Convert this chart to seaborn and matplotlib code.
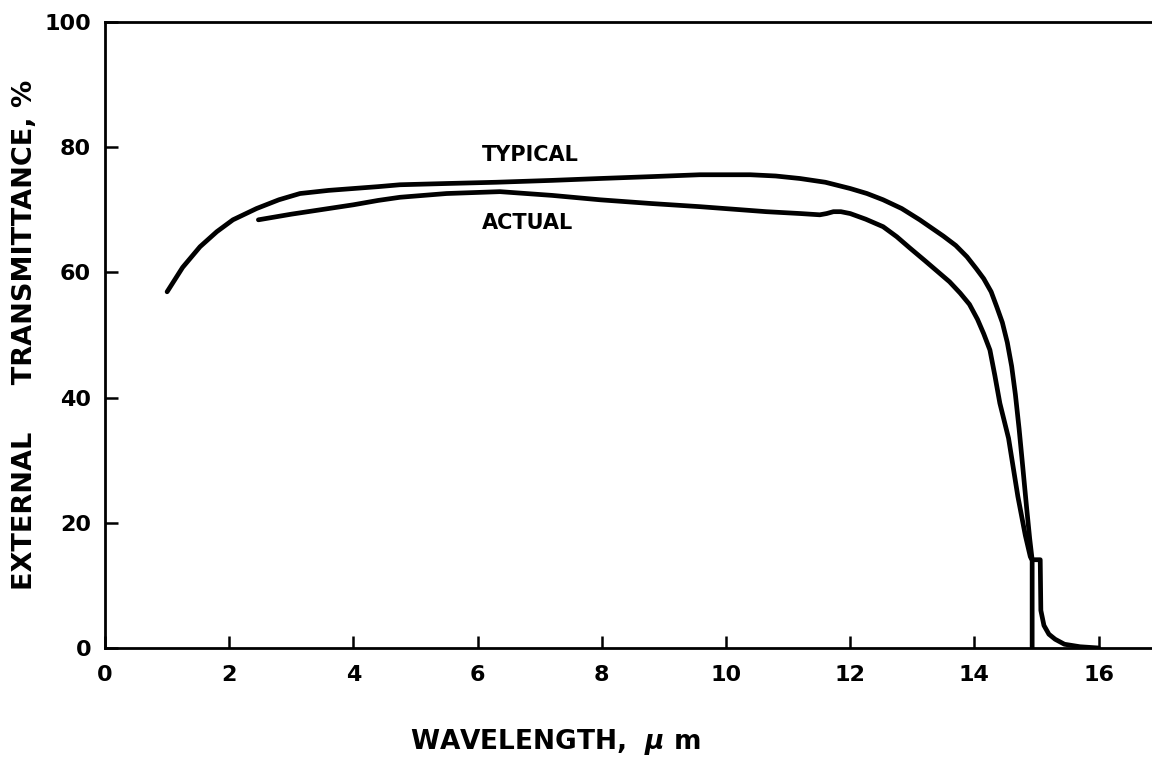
import matplotlib
matplotlib.use("Agg")
import matplotlib.pyplot as plt
import seaborn as sns
import pandas as pd

typical_x = [1.0, 1.25, 1.53, 1.8, 2.06, 2.44, 2.8, 3.14, 3.6, 4.0, 4.4, 4.75, 5.5, 6.3, 7.2, 7.97, 8.8, 9.58, 10.39, 10.8, 11.19, 11.6, 12.0, 12.27, 12.53, 12.83, 13.12, 13.5, 13.7, 13.88, 14.03, 14.15, 14.27, 14.36, 14.45, 14.53, 14.6, 14.66, 14.72, 14.78, 14.84, 14.89, 14.93, 15.06, 15.07, 15.12, 15.2, 15.3, 15.45, 15.7, 16.0]
typical_y = [56.9, 60.8, 64.1, 66.5, 68.4, 70.2, 71.6, 72.6, 73.1, 73.4, 73.7, 74.0, 74.2, 74.4, 74.7, 75.0, 75.3, 75.6, 75.6, 75.4, 75.0, 74.4, 73.4, 72.6, 71.6, 70.2, 68.4, 65.8, 64.3, 62.5, 60.6, 59.0, 56.9, 54.5, 52.0, 48.8, 45.0, 40.5, 35.0, 28.8, 22.5, 17.5, 14.1, 14.1, 6.0, 3.6, 2.2, 1.4, 0.6, 0.2, 0.0]

actual_x = [2.47, 3.0, 3.6, 4.0, 4.4, 4.75, 5.5, 6.36, 7.2, 7.97, 8.8, 9.58, 10.65, 11.2, 11.51, 11.62, 11.73, 11.85, 12.0, 12.25, 12.53, 12.75, 12.96, 13.2, 13.4, 13.6, 13.77, 13.92, 14.05, 14.15, 14.25, 14.33, 14.41, 14.55, 14.7, 14.82, 14.9, 14.93, 14.93]
actual_y = [68.4, 69.3, 70.2, 70.8, 71.5, 72.0, 72.6, 72.9, 72.3, 71.6, 71.0, 70.5, 69.7, 69.4, 69.2, 69.4, 69.7, 69.7, 69.4, 68.5, 67.3, 65.7, 63.9, 61.9, 60.2, 58.5, 56.7, 54.9, 52.5, 50.2, 47.6, 43.5, 39.1, 33.5, 24.2, 18.0, 14.6, 14.0, 0.0]

x_ticks = [0, 2, 4, 6, 8, 10, 12, 14, 16]
y_ticks = [0, 20, 40, 60, 80, 100]

df = pd.concat([
    pd.DataFrame({"x": typical_x, "y": typical_y, "series": "TYPICAL"}),
    pd.DataFrame({"x": actual_x, "y": actual_y, "series": "ACTUAL"}),
])

sns.set_theme(style="ticks", rc={"text.color": "black", "axes.labelcolor": "black",
                                 "xtick.color": "black", "ytick.color": "black",
                                 "axes.edgecolor": "black"})
plt.rcParams["font.family"] = ["DejaVu Sans"]
plt.rcParams["font.weight"] = "bold"

fig = plt.figure(figsize=(11.52, 7.64), dpi=100)
ax = fig.add_axes([105 / 1152, 1 - 648 / 764, 1 - 105 / 1152, (648 - 22) / 764])

sns.lineplot(data=df, x="x", y="y", hue="series", units="series", estimator=None,
             sort=False, palette={"TYPICAL": "black", "ACTUAL": "black"},
             linewidth=3.4, legend=False, ax=ax, solid_capstyle="round",
             solid_joinstyle="round")

ax.set_xlim(0, (1152 - 105) / 62.1)
ax.set_ylim(0, 100)
ax.set_xticks(x_ticks)
ax.set_yticks(y_ticks)
ax.set_xticklabels([str(t) for t in x_ticks], fontsize=16, fontweight="bold")
ax.set_yticklabels([str(t) for t in y_ticks], fontsize=16, fontweight="bold")
ax.tick_params(direction="in", length=9, width=1.8, color="black", labelcolor="black", pad=10)
ax.tick_params(axis="x", pad=12)

for side in ["left", "bottom", "top"]:
    ax.spines[side].set_linewidth(2.0)
    ax.spines[side].set_color("black")
ax.spines["right"].set_visible(False)

ax.set_xlabel("WAVELENGTH,  $\\mu$ m", fontsize=19, fontweight="bold", color="black")
ax.xaxis.set_label_coords((555 - 105) / 1047, (648 - 742) / 626)
ax.xaxis.label.set_va("center")
ax.set_ylabel("EXTERNAL     TRANSMITTANCE, %", fontsize=19.5, fontweight="bold", color="black")
ax.yaxis.set_label_coords((25 - 105) / 1047, 0.5)
ax.yaxis.label.set_va("center")

ax.text(6.07, 78.8, "TYPICAL", fontsize=15, fontweight="bold", ha="left", va="center", color="black")
ax.text(6.07, 67.9, "ACTUAL", fontsize=15, fontweight="bold", ha="left", va="center", color="black")

fig.savefig("out.png", dpi=100, facecolor="white")
